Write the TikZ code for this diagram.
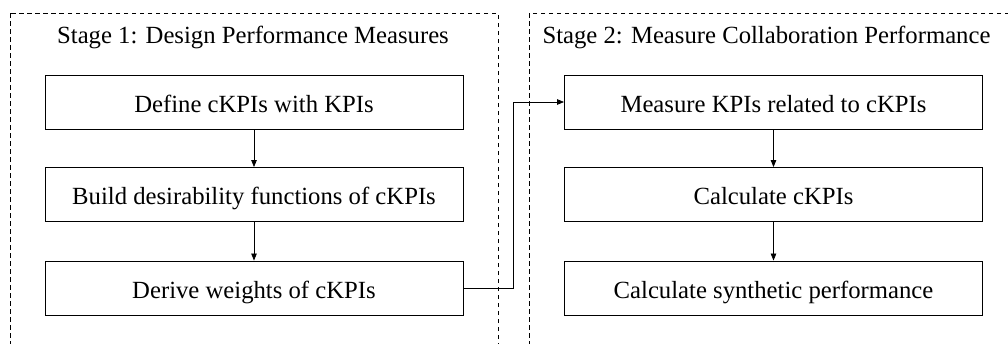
\documentclass[tikz,border=0pt]{standalone}
\usepackage{fontspec}
\setmainfont{Liberation Serif}
\usetikzlibrary{arrows.meta}
\tikzset{
  stagebox/.style={draw, line width=0.8pt, dash pattern=on 4.5pt off 3.5pt},
  stepbox/.style={draw, line width=0.9pt, minimum width=418pt, minimum height=54pt,
    inner sep=0pt, text height=20pt, text depth=0pt,
    font=\fontsize{24.7}{30}\selectfont},
  stagetitle/.style={anchor=base, inner sep=0pt, font=\fontsize{24.7}{30}\selectfont},
  flow/.style={draw, line width=0.8pt, -{Triangle[length=7pt,width=5.5pt]}}
}
\begin{document}
\begin{tikzpicture}[x=1pt,y=-1pt]
\useasboundingbox (0,0) rectangle (1008,343);
\clip (0,0) rectangle (1008,343);
% stage frames (open at the bottom and right edge)
\draw[stagebox] (10,13) rectangle (498,360);
\draw[stagebox] (529,13) rectangle (1030,360);
% stage titles
\node[stagetitle] (t1) at (253,43) {Stage 1: Design Performance Measures};
\node[stagetitle] (t2) at (766.5,43) {Stage 2: Measure Collaboration Performance};
% stage 1 steps
\node[stepbox] (a1) at (254,102) {Define cKPIs with KPIs};
\node[stepbox] (a2) at (254,194.5) {Build desirability functions of cKPIs};
\node[stepbox] (a3) at (254,288) {Derive weights of cKPIs};
% stage 2 steps
\node[stepbox] (b1) at (773.5,102) {Measure KPIs related to cKPIs};
\node[stepbox] (b2) at (773.5,194.5) {Calculate cKPIs};
\node[stepbox] (b3) at (773.5,288) {Calculate synthetic performance};
% connectors
\draw[flow] (a1) -- (a2);
\draw[flow] (a2) -- (a3);
\draw[flow] (b1) -- (b2);
\draw[flow] (b2) -- (b3);
\coordinate (turn) at (513,0);
\draw[flow] (a3.east) -| (turn |- a3.east) |- (b1.west);
\end{tikzpicture}
\end{document}
